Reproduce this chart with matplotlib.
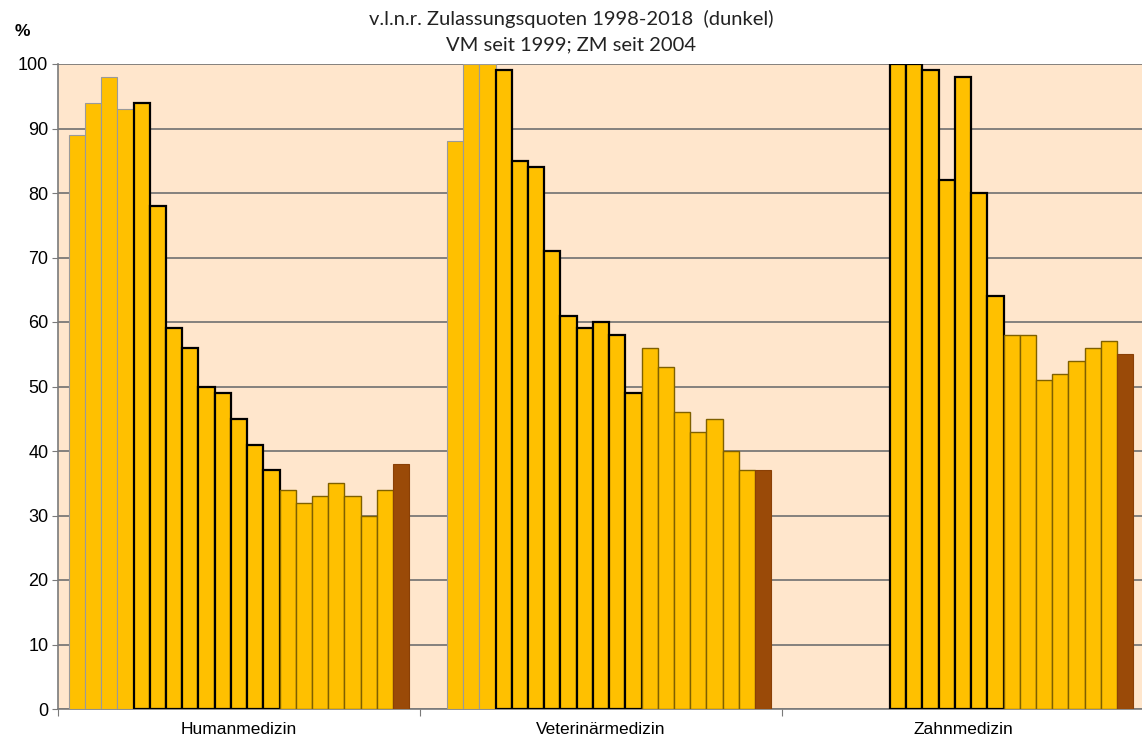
import numpy as np
import matplotlib.pyplot as plt

# Zulassungsquoten in %, Jahre 1998-2018 (None = kein Wert)
years = list(range(1998, 2019))
categories = ["Humanmedizin", "Veterinärmedizin", "Zahnmedizin"]

human = [89, 94, 98, 93, 94, 78, 59, 56, 50, 49, 45, 41, 37, 34, 32, 33, 35, 33, 30, 34, 38]
vet = [None, 88, 100, 100, 99, 85, 84, 71, 61, 59, 60, 58, 49, 56, 53, 46, 43, 45, 40, 37, 37]
zahn = [None] * 6 + [100, 100, 99, 82, 98, 80, 64, 58, 58, 51, 52, 54, 56, 57, 55]

series = [human, vet, zahn]

yellow = "#FFC000"
brown = "#9A4A08"
bg = "#FFE6CC"

fig = plt.figure(figsize=(11.42, 7.40), dpi=100)
ax = fig.add_axes([58 / 1142, 31 / 740, 1086 / 1142, 645 / 740])
ax.set_facecolor(bg)

n = len(years)
gap = 0.03
bw = (1 - 2 * gap) / n

for ci, vals in enumerate(series):
    for j, (yr, v) in enumerate(zip(years, vals)):
        if v is None:
            continue
        x = ci + gap + j * bw
        if yr == 2018:
            fc, ec, lw = brown, "#8a4006", 0.8
        elif 2002 <= yr <= 2010:
            fc, ec, lw = yellow, "black", 1.6
        elif yr <= 2001:
            fc, ec, lw = yellow, "#9a9a9a", 0.8
        else:
            fc, ec, lw = yellow, "#7f6000", 1.0
        ax.bar(x, v, width=bw, align="edge", color=fc, edgecolor=ec,
               linewidth=lw, zorder=3)

ax.set_xlim(0, 3)
ax.set_ylim(0, 100)
ax.set_yticks(np.arange(0, 101, 10))
ax.yaxis.grid(True, color="#707070", linewidth=1.2, zorder=0)
ax.set_axisbelow(True)

ax.set_xticks([0, 1, 2, 3])
ax.set_xticklabels([])
ax.set_xticks([0.5, 1.5, 2.5], minor=True)
ax.set_xticklabels(categories, minor=True, fontsize=12.5, family="Liberation Sans")
ax.tick_params(axis="x", which="major", length=5, color="#7a7a7a", direction="out")
ax.tick_params(axis="x", which="minor", length=0, pad=9)
ax.tick_params(axis="y", length=4, color="#7a7a7a", labelsize=13, pad=3)
for lab in ax.get_yticklabels():
    lab.set_family("Liberation Sans")

for s in ["top", "right"]:
    ax.spines[s].set_visible(False)
for s in ["left", "bottom"]:
    ax.spines[s].set_color("#7a7a7a")
    ax.spines[s].set_linewidth(1.2)

fig.text(0.5, 1 - 19 / 740, "v.l.n.r. Zulassungsquoten 1998-2018  (dunkel)", ha="center",
         va="center", fontsize=14.5, family="Lato", color="#222222")
fig.text(0.5, 1 - 45 / 740, "VM seit 1999; ZM seit 2004", ha="center", va="center",
         fontsize=14.5, family="Lato", color="#222222")
fig.text(22 / 1142, 1 - 31 / 740, "%", ha="center", va="center", fontsize=12.5,
         fontweight="bold", family="Liberation Sans")

fig.savefig("out.png", dpi=100)
